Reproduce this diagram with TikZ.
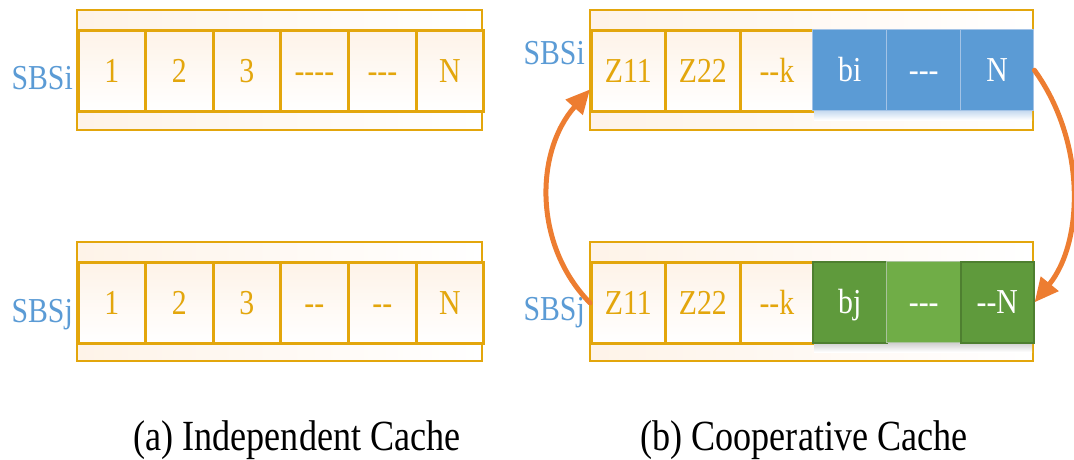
\documentclass[tikz,border=0pt]{standalone}
\usepackage{fontspec}
\usepackage{graphicx}
\setmainfont{Liberation Serif}[Ligatures=TeXOff]
\usetikzlibrary{arrows.meta,calc}

\newcommand\nrw[1]{\scalebox{0.85}[1]{#1}}
\newcommand\capw[1]{\scalebox{0.84}[1]{#1}}

\definecolor{gold}{HTML}{E3A60C}
\definecolor{peach}{HTML}{FEF3E8}
\definecolor{sbsblue}{HTML}{5B9BD5}
\definecolor{cellblue}{HTML}{5B9BD5}
\definecolor{bluerule}{HTML}{A3C3E6}
\definecolor{darkgreen}{HTML}{5F9A3C}
\definecolor{greenrule}{HTML}{4E7F30}
\definecolor{lightgreen}{HTML}{70AD47}
\definecolor{lightgreenrule}{HTML}{A9C29C}
\definecolor{arroworange}{HTML}{ED7D31}

\tikzset{
  frame/.style={draw=gold, line width=2.8pt, left color=peach, right color=white},
  cellbase/.style={anchor=north west, minimum height=81pt, inner sep=0pt,
    text height=23pt, text depth=0pt, font=\fontsize{35}{40}\selectfont},
  cell/.style={cellbase, draw=gold, line width=2.8pt, text=gold,
    top color=peach, bottom color=white},
  bluecell/.style={cellbase, draw=bluerule, line width=1.4pt, fill=cellblue, text=white},
  greencell/.style={cellbase, draw=greenrule, line width=1.6pt, fill=darkgreen, text=white},
  paleGreencell/.style={cellbase, draw=lightgreenrule, line width=1.4pt, fill=lightgreen, text=white},
  sbslabel/.style={anchor=base east, inner sep=0pt, text=sbsblue,
    font=\fontsize{35}{40}\selectfont},
  caption/.style={anchor=base, inner sep=0pt, text=black,
    font=\fontsize{43}{48}\selectfont},
  shade/.style={top color=#1, bottom color=white, draw=none},
  swap/.style={draw=arroworange, line width=5pt, line cap=round,
    -{Triangle[length=24pt,width=22pt]}}
}

\begin{document}
\begin{tikzpicture}[x=1pt,y=-1pt]
\useasboundingbox (0,0) rectangle (1074,460);

% ---------- (a) independent caches ----------
\path[frame] (77,10) rectangle (482,130);
\path[frame] (77,242) rectangle (482,361);
\foreach \n/\x/\w/\t in {1/77/67/1, 2/144/68/2, 3/212/67/3, 4/279/68/----, 5/347/68/---, 6/415/67/N}
  \node[cell, minimum width=\w pt] (li\n) at (\x,29) {\nrw{\t}};
\foreach \n/\x/\w/\t in {1/77/67/1, 2/144/68/2, 3/212/67/3, 4/279/68/--, 5/347/68/--, 6/415/67/N}
  \node[cell, minimum width=\w pt] (lj\n) at (\x,261) {\nrw{\t}};

\node[sbslabel] (lsbsi) at (73,89) {\nrw{SBSi}};
\node[sbslabel] (lsbsj) at (73,322) {\nrw{SBSj}};

% ---------- (b) cooperative caches ----------
\path[frame] (590,10) rectangle (1033,130);
\path[frame] (590,242) rectangle (1033,361);
\foreach \n/\x/\w/\t in {1/590/74/Z11, 2/664/75/Z22, 3/739/73/--k}
  \node[cell, minimum width=\w pt] (ri\n) at (\x,29) {\nrw{\t}};
\foreach \n/\x/\w/\t in {1/590/74/Z11, 2/664/75/Z22, 3/739/73/--k}
  \node[cell, minimum width=\w pt] (rj\n) at (\x,261) {\nrw{\t}};

% soft shadows under the shared segments
\path[shade=bluerule!60] (814,111) rectangle (1032,120);
\path[shade=black!18] (814,343) rectangle (1032,352);

\node[bluecell, minimum width=74pt] (ri4) at (812,29) {\nrw{bi}};
\node[bluecell, minimum width=74pt] (ri5) at (886,29) {\nrw{---}};
\node[bluecell, minimum width=73pt] (ri6) at (960,29) {\nrw{N}};

\node[greencell, minimum width=74pt] (rj4) at (812,261) {\nrw{bj}};
\node[paleGreencell, minimum width=74pt] (rj5) at (886,261) {\nrw{---}};
\node[greencell, minimum width=73pt] (rj6) at (960,261) {\nrw{--N}};

\node[sbslabel] (rsbsi) at (585,65) {\nrw{SBSi}};
\node[sbslabel] (rsbsj) at (585,320) {\nrw{SBSj}};

% exchange arrows between the two base stations
\coordinate (upend) at ($(ri1.west)+(0,18.5)$);
\draw[swap] (rj1.west) .. controls +(-57,-58) and +(-55,62) .. (upend);
\draw[swap] (ri6.east) .. controls +(52,72) and +(49,-60) .. (rj6.east);

% ---------- captions ----------
\node[caption] (capa) at (297,450) {\capw{(a) Independent Cache}};
\node[caption] (capb) at (804,450) {\capw{(b) Cooperative Cache}};
\end{tikzpicture}
\end{document}
